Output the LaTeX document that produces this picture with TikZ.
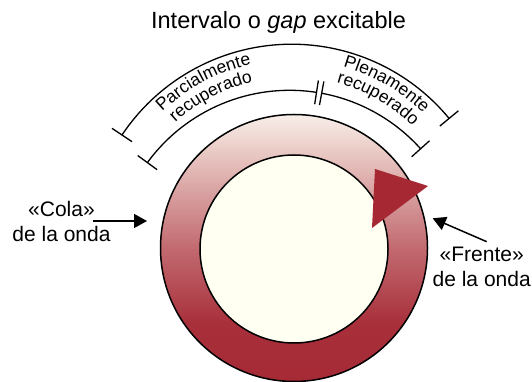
\documentclass[tikz,border=0pt]{standalone}
\usepackage{fontspec}
\setmainfont{Liberation Sans}
\usetikzlibrary{arrows.meta,decorations.text,calc}
\definecolor{ringdark}{HTML}{A52A35}
\definecolor{ringdarkb}{HTML}{A8303B}
\definecolor{ringmid}{HTML}{C26A70}
\definecolor{ringpale}{HTML}{E8C6C2}
\definecolor{ringtop}{HTML}{F8EFE9}
\definecolor{innerfill}{HTML}{FFFFF2}
\definecolor{tricolor}{HTML}{A52833}
\pgfdeclareverticalshading{ringshade}{100bp}{color(0bp)=(ringdark); color(25bp)=(ringdark); color(36bp)=(ringdarkb); color(50bp)=(ringmid); color(67.5bp)=(ringpale); color(75bp)=(ringtop); color(100bp)=(ringtop)}
\newcommand{\labfont}{\fontsize{21}{25.5}\selectfont}
\newcommand{\titfont}{\fontsize{23.5}{28}\selectfont}
\newcommand{\arcfont}{\fontsize{17.5}{20}\selectfont}
\tikzset{
  bracket/.style={draw=black, line width=1.3pt},
  ringline/.style={draw=black, line width=1.5pt},
  ptr/.style={draw=black, line width=1.5pt, -{Triangle[length=13pt,width=14pt]}},
  lbl/.style={inner sep=0pt, align=center, font=\labfont},
  arctext/.style={decorate, decoration={text along path, text align=center, text={|\arcfont|#1}}}
}
\begin{document}
\begin{tikzpicture}[x=1pt,y=1pt]
\useasboundingbox (0,0) rectangle (532,382);
% ring
\coordinate (rc) at (294,134);
\coordinate (ci) at (294,133);
\shadedraw[shading=ringshade, ringline] (rc) circle[radius=133.5];
\filldraw[fill=innerfill, ringline] (ci) circle[radius=94];
% wave front triangle
\fill[tricolor] (375,213) -- (428,196) -- (372,154) -- cycle;
% brackets
\coordinate (oc) at (291.7,133.8);
\coordinate (ic) at (289.6,115.7);
\draw[bracket] ($(oc)+(146.3:204)$) arc[start angle=146.3, end angle=39.5, radius=204];
\draw[bracket] ($(oc)+(146.3:192)$) -- ($(oc)+(146.3:216)$);
\draw[bracket] ($(oc)+(39.5:192)$) -- ($(oc)+(39.5:216)$);
\draw[bracket] ($(ic)+(143.9:176)$) arc[start angle=143.9, end angle=81.2, radius=176];
\draw[bracket] ($(ic)+(143.9:164)$) -- ($(ic)+(143.9:188)$);
\draw[bracket] ($(ic)+(81.2:164)$) -- ($(ic)+(81.2:188)$);
\draw[bracket] ($(ic)+(79.5:176)$) arc[start angle=79.5, end angle=41.9, radius=176];
\draw[bracket] ($(ic)+(79.5:164)$) -- ($(ic)+(79.5:188)$);
\draw[bracket] ($(ic)+(41.9:164)$) -- ($(ic)+(41.9:188)$);
% curved labels
\path[arctext=Parcialmente] ($(oc)+(153:188)$) arc[start angle=153, end angle=83, radius=188];
\path[arctext=recuperado] ($(oc)+(153:171)$) arc[start angle=153, end angle=83, radius=171];
\path[arctext=Plenamente] ($(oc)+(95:188.5)$) arc[start angle=95, end angle=25, radius=188.5];
\path[arctext=recuperado] ($(oc)+(95:171.5)$) arc[start angle=95, end angle=25, radius=171.5];
% title
\node[inner sep=0pt, anchor=base, font=\titfont] (title) at (278.5,353) {Intervalo o \textit{gap} excitable};
% side labels (base anchor = baseline of last line)
\node[lbl, anchor=base] (cola) at (61.5,140) {«Cola»\\de la onda};
\node[lbl, anchor=base] (frente) at (481.7,95) {«Frente»\\de la onda};
\coordinate (colatail) at (93,161);
\coordinate (colatip) at (147,161);
\coordinate (frentetail) at (486.7,140.3);
\coordinate (frentetip) at (432.7,163.7);
\draw[ptr] (colatail) -- (colatip);
\draw[ptr] (frentetail) -- (frentetip);
\end{tikzpicture}
\end{document}
